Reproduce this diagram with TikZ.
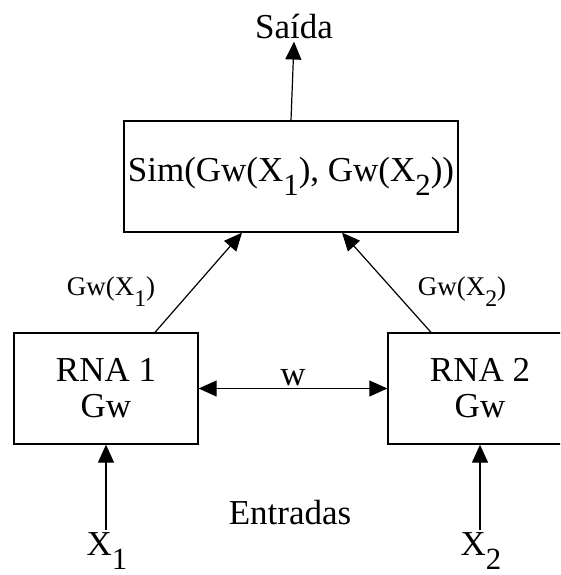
\documentclass[tikz,border=0pt]{standalone}
\usepackage{fontspec}
\setmainfont{Liberation Serif}
\usetikzlibrary{arrows.meta}
\newcommand{\lowidx}[1]{\raisebox{-0.4em}{\scalebox{0.88}{#1}}}
\begin{document}
\begin{tikzpicture}[x=1pt,y=-1pt,
    box/.style={draw,line width=1.3pt,rectangle,inner sep=0pt},
    txt/.style={font=\fontsize{35}{40}\selectfont,inner sep=2pt},
    lbl/.style={font=\fontsize{27}{30}\selectfont,inner sep=2pt},
    arr/.style={line width=1.2pt,-{Triangle[length=18pt,width=16pt]}},
    darr/.style={line width=1.2pt,{Triangle[length=18pt,width=16pt]}-{Triangle[length=18pt,width=16pt]}}]
  \clip (0,0) rectangle (560,575);

  % Sim box and output
  \node[box,txt,minimum width=334pt,minimum height=111pt] (sim) at (291,176.5)
    {Sim(Gw(X\lowidx{1}), Gw(X\lowidx{2}))};
  \node[txt] (saida) at (294,27) {Saída};
  \draw[arr] (sim.north) -- (saida.south);

  % RNA 1 -- w -- RNA 2
  \node[box,txt,minimum width=184pt,minimum height=111pt,align=center] (rna1) at (106,388.5)
    {RNA 1\\[-4pt]Gw};
  \node[box,txt,minimum width=184pt,minimum height=111pt,align=center] (rna2) at (480,388.5)
    {RNA 2\\[-4pt]Gw};
  \draw[darr] (rna1.east) -- node[txt,above] (w) {w} (rna2.west);

  % outputs of both networks
  \draw[arr] ([xshift=49pt]rna1.north) -- ([xshift=-49pt]sim.south);
  \draw[arr] ([xshift=-49pt]rna2.north) -- ([xshift=51pt]sim.south);
  \node[lbl] (g1) at (111,292) {Gw(X\lowidx{1})};
  \node[lbl] (g2) at (462,292) {Gw(X\lowidx{2})};

  % inputs
  \node[txt] (entradas) at (290,513) {Entradas};
  \node[txt,anchor=base] (x1) at (107,555) {X\lowidx{1}};
  \node[txt,anchor=base] (x2) at (481,555) {X\lowidx{2}};
  \draw[arr] (x1.north-|rna1.south) -- (rna1.south);
  \draw[arr] (x2.north-|rna2.south) -- (rna2.south);
\end{tikzpicture}
\end{document}
